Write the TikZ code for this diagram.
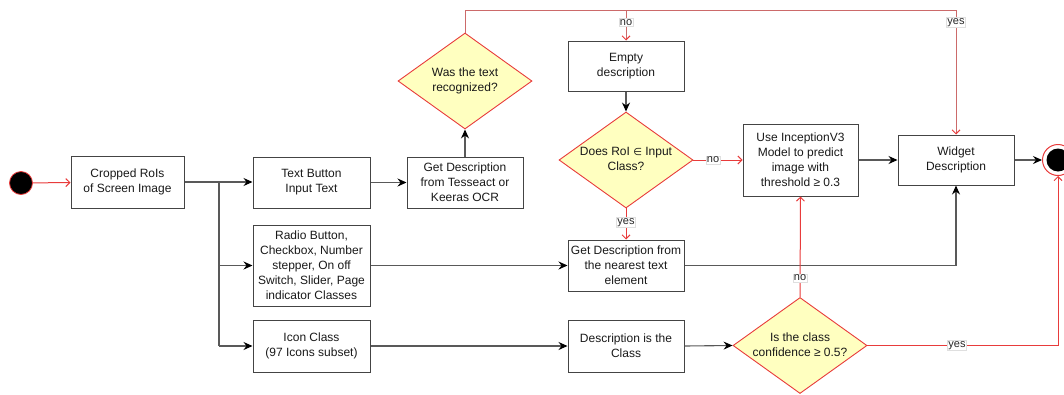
\documentclass[tikz,border=0pt]{standalone}
\usepackage{fontspec}
\setmainfont{Liberation Sans}
\newfontfamily\dejavu{DejaVu Sans}
\usetikzlibrary{arrows.meta,shapes.geometric}
\definecolor{brred}{HTML}{E83B3B}
\definecolor{mured}{HTML}{CC6A6A}
\definecolor{dyel}{HTML}{FFFFC0}
\definecolor{lgray}{HTML}{444444}
\begin{document}
\begin{tikzpicture}[x=1pt,y=-1pt,
  font=\fontsize{12}{15}\selectfont,
  box/.style={draw=lgray, line width=1pt, align=center, inner sep=0pt, text=black!90},
  dia/.style={diamond, draw=brred, fill=dyel, line width=0.9pt, inner sep=0pt,
              minimum width=134pt, minimum height=96pt, aspect=1.4, text=black!90},
  blk/.style={draw=black!65, line width=1.1pt, -{Stealth[length=9pt,width=8pt,inset=3pt,fill=black,black]}},
  rline/.style={draw=brred, line width=1pt, -{Straight Barb[length=4pt,width=8pt]}},
  mline/.style={draw=mured, line width=1pt, -{Straight Barb[length=4pt,width=8pt,brred]}},
  lab/.style={fill=white, draw=gray!25, line width=0.5pt, inner sep=1pt, text=black!85,
              font=\fontsize{11}{12}\selectfont}
]
\useasboundingbox (0,0) rectangle (1064,394);

% start and end
\node[circle, draw=brred, fill=black, line width=0.8pt, minimum size=23pt, inner sep=0pt] (start) at (21,183) {};
\node[circle, draw=brred, fill=white, line width=1pt, minimum size=31pt, inner sep=0pt] (end) at (1058,160) {};
\fill[black] (end.center) circle (11.5);

% boxes
\node[box, minimum width=113pt, minimum height=52pt] (crop) at (127.5,182) {Cropped RoIs\\of Screen Image};
\node[box, minimum width=117pt, minimum height=51pt] (tb) at (311.5,182.5) {Text Button\\Input Text};
\node[box, minimum width=117pt, minimum height=81pt] (radio) at (311.5,265.5) {Radio Button,\\Checkbox, Number\\stepper, On off\\Switch, Slider, Page\\indicator Classes};
\node[box, minimum width=117pt, minimum height=52pt] (icon) at (311.5,346) {Icon Class\\(97 Icons subset)};
\node[box, minimum width=116pt, minimum height=51pt] (tess) at (465,182.5) {Get Description\\from Tesseact or\\Keeras OCR};
\node[box, minimum width=116pt, minimum height=50pt] (empty) at (626,66) {Empty\\description};
\node[box, minimum width=116pt, minimum height=51pt] (near) at (626,265.5) {Get Description from\\the nearest text\\element};
\node[box, minimum width=116pt, minimum height=52pt] (dcls) at (626,346) {Description is the\\Class};
\node[box, minimum width=115pt, minimum height=72pt] (incep) at (800.5,160) {Use InceptionV3\\Model to predict\\image with\\threshold ≥ 0.3};
\node[box, minimum width=116pt, minimum height=50pt] (widget) at (956,160) {Widget\\Description};

% diamonds
\node[dia] (d1) at (465,81) {\makebox[0pt]{\begin{tabular}{@{}c@{}}Was the text\\recognized?\end{tabular}}};
\node[dia] (d2) at (626,160) {\makebox[0pt]{\begin{tabular}{@{}c@{}}Does RoI {\dejavu\fontsize{10}{12}\selectfont ∈} Input\\Class?\end{tabular}}};
\node[dia] (d3) at (800,345.5) {\makebox[0pt]{\begin{tabular}{@{}c@{}}Is the class\\confidence ≥ 0.5?\end{tabular}}};

\coordinate (j) at (219,182);

% connectors
\draw[rline] (start) -- (crop);
\draw[blk] (crop.east |- j) -- (tb.west |- j);
\draw[draw=black!65, line width=1.1pt] (j) -- (219,346);
\draw[blk] (j |- radio.west) -- (radio.west);
\draw[blk] (j |- icon.west) -- (icon.west);
\draw[blk] (tb.east) -- (tess.west);
\draw[blk] (tess.north) -- (d1.south);

\draw[mline] (d1.north) -- (465,10) -- (956,10) -- node[lab, pos=0.1] {yes} (widget.north);
\draw[mline] (626,10) -- node[lab, pos=0.4] {no} (empty.north);

\draw[blk] (empty.south) -- (d2.north);
\draw[rline] (d2.east) -- node[lab, pos=0.4] {no} (incep.west);
\draw[rline] (d2.south) -- node[lab, pos=0.45] {yes} (near.north);

\draw[blk] (radio.east) -- (near.west);
\draw[blk] (near.east) -| (widget.south);
\draw[blk] (incep.east) -- (widget.west);
\draw[blk] (widget.east) -- (end.west);

\draw[blk] (icon.east) -- (dcls.west);
\draw[blk] (dcls.east) -- (d3.west);
\draw[rline] (d3.north) -- node[lab, pos=0.19] {no} (incep.south);
\draw[rline] (d3.east) -- node[lab, pos=0.47] {yes} (1058,345.5) -- (end.south);
\end{tikzpicture}
\end{document}
